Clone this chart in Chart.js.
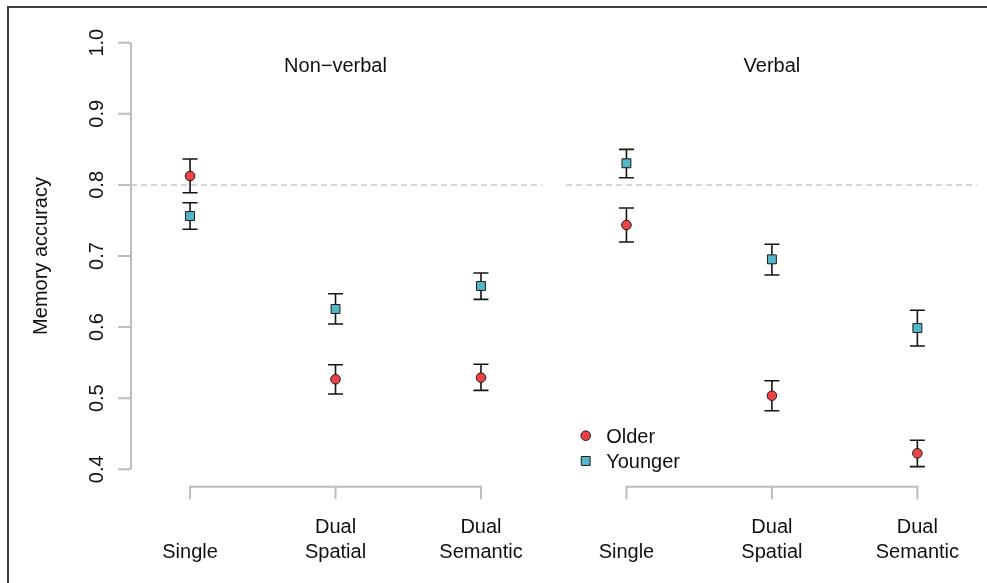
<!DOCTYPE html>
<html><head><meta charset="utf-8">
<script src="https://cdn.jsdelivr.net/npm/chart.js@4.4.1/dist/chart.umd.min.js"></script>
<style>html,body{margin:0;padding:0;background:#fff;}#wrap{width:987px;height:583px;position:relative;}</style>
</head><body><div id="wrap"><canvas id="c" width="987" height="583"></canvas></div>
<script>
// ---- data ----
const groups = ['Non\u2212verbal', 'Verbal'];
const groupCenters = [2, 5];
const conditions = [['Single'], ['Dual','Spatial'], ['Dual','Semantic'], ['Single'], ['Dual','Spatial'], ['Dual','Semantic']];
const xPos = [1, 2, 3, 4, 5, 6];
const olderMean  = [0.8125, 0.5266, 0.5289, 0.7436, 0.5035, 0.4225];
const olderLow   = [0.7890, 0.5060, 0.5110, 0.7197, 0.4824, 0.4037];
const olderHigh  = [0.8364, 0.5471, 0.5477, 0.7675, 0.5246, 0.4408];
const youngerMean = [0.7563, 0.6255, 0.6578, 0.8304, 0.6953, 0.5987];
const youngerLow  = [0.7376, 0.6044, 0.6390, 0.8100, 0.6733, 0.5734];
const youngerHigh = [0.7750, 0.6470, 0.6761, 0.8500, 0.7165, 0.6236];
const yTicks = [0.4, 0.5, 0.6, 0.7, 0.8, 0.9, 1.0];
const yTickLabels = ['0.4', '0.5', '0.6', '0.7', '0.8', '0.9', '1.0'];
const refValue = 0.8;
const refSegments = [[0.594, 3.42], [3.585, 6.41]];
const seriesNames = ['Older', 'Younger'];
const yTitle = 'Memory accuracy';

const RED = '#EE4346', BLUE = '#55B5C8';
const FONT = '20px "Liberation Sans", Arial, sans-serif';

const pts = (m) => xPos.map((x, i) => ({x: x, y: m[i]}));
const bars = [[olderLow, olderHigh], [youngerLow, youngerHigh]];

const deco = {
  id: 'deco',
  beforeDatasetsDraw(chart) {
    const ctx = chart.ctx, xs = chart.scales.x, ys = chart.scales.y, ca = chart.chartArea;
    ctx.save();
    // frame (top & left)
    ctx.strokeStyle = '#3c3c3c'; ctx.lineWidth = 2;
    ctx.beginPath(); ctx.moveTo(8, 583); ctx.lineTo(8, 7); ctx.lineTo(987, 7); ctx.stroke();
    // reference dashed line
    ctx.strokeStyle = '#c8c8c8'; ctx.lineWidth = 1.5; ctx.setLineDash([6, 4]);
    refSegments.forEach(s => {
      ctx.beginPath();
      ctx.moveTo(xs.getPixelForValue(s[0]), ys.getPixelForValue(refValue));
      ctx.lineTo(xs.getPixelForValue(s[1]), ys.getPixelForValue(refValue));
      ctx.stroke();
    });
    ctx.setLineDash([]);
    // y axis
    ctx.strokeStyle = '#bdbdbd'; ctx.lineWidth = 2;
    const ax = ca.left;
    ctx.beginPath();
    ctx.moveTo(ax, ys.getPixelForValue(yTicks[0]));
    ctx.lineTo(ax, ys.getPixelForValue(yTicks[yTicks.length - 1]));
    yTicks.forEach(t => { const p = ys.getPixelForValue(t); ctx.moveTo(ax, p); ctx.lineTo(ax - 13, p); });
    ctx.stroke();
    ctx.fillStyle = '#111'; ctx.font = FONT;
    yTicks.forEach((t, i) => {
      ctx.save();
      ctx.translate(102.5, ys.getPixelForValue(t));
      ctx.rotate(-Math.PI / 2);
      ctx.textAlign = 'center'; ctx.textBaseline = 'alphabetic';
      ctx.fillText(yTickLabels[i], 0, 0);
      ctx.restore();
    });
    ctx.save();
    ctx.translate(46.5, (ca.top + ca.bottom) / 2);
    ctx.rotate(-Math.PI / 2);
    ctx.textAlign = 'center'; ctx.textBaseline = 'alphabetic';
    ctx.fillText(yTitle, 0, 0);
    ctx.restore();
    // x brackets
    const by = ca.bottom + 17.5;
    ctx.strokeStyle = '#bdbdbd'; ctx.lineWidth = 2;
    [[0, 1, 2], [3, 4, 5]].forEach(g => {
      ctx.beginPath();
      ctx.moveTo(xs.getPixelForValue(xPos[g[0]]), by + 12.5);
      ctx.lineTo(xs.getPixelForValue(xPos[g[0]]), by);
      ctx.lineTo(xs.getPixelForValue(xPos[g[2]]), by);
      ctx.lineTo(xs.getPixelForValue(xPos[g[2]]), by + 12.5);
      ctx.moveTo(xs.getPixelForValue(xPos[g[1]]), by);
      ctx.lineTo(xs.getPixelForValue(xPos[g[1]]), by + 12.5);
      ctx.stroke();
    });
    // x labels
    ctx.textAlign = 'center'; ctx.textBaseline = 'alphabetic';
    conditions.forEach((lines, i) => {
      const px = xs.getPixelForValue(xPos[i]);
      const n = lines.length;
      lines.forEach((ln, j) => ctx.fillText(ln, px, ca.bottom + 89 - (n - 1 - j) * 25));
    });
    // group titles
    groups.forEach((g, i) => ctx.fillText(g, xs.getPixelForValue(groupCenters[i]), ca.top + 29));
    // error bars
    ctx.strokeStyle = '#151515'; ctx.lineWidth = 1.6;
    bars.forEach(b => {
      xPos.forEach((x, i) => {
        const px = xs.getPixelForValue(x), lo = ys.getPixelForValue(b[0][i]), hi = ys.getPixelForValue(b[1][i]);
        ctx.beginPath();
        ctx.moveTo(px, lo); ctx.lineTo(px, hi);
        ctx.moveTo(px - 7.5, lo); ctx.lineTo(px + 7.5, lo);
        ctx.moveTo(px - 7.5, hi); ctx.lineTo(px + 7.5, hi);
        ctx.stroke();
      });
    });
    ctx.restore();
  },
  afterDatasetsDraw(chart) {
    const ctx = chart.ctx, xs = chart.scales.x, ys = chart.scales.y;
    ctx.save();
    const lx = xs.getPixelForValue(3.72);
    const lys = [ys.getPixelForValue(0.4473), ys.getPixelForValue(0.4117)];
    chart.data.datasets.forEach((ds, i) => {
      ctx.fillStyle = ds.backgroundColor; ctx.strokeStyle = ds.borderColor; ctx.lineWidth = ds.borderWidth;
      Chart.helpers.drawPoint(ctx, {pointStyle: ds.pointStyle, radius: ds.pointRadius, borderWidth: ds.borderWidth, rotation: 0}, lx, lys[i]);
      ctx.fillStyle = '#111'; ctx.font = FONT; ctx.textAlign = 'left'; ctx.textBaseline = 'alphabetic';
      ctx.fillText(seriesNames[i], lx + 20.5, lys[i] + 7.5);
    });
    ctx.restore();
  }
};

new Chart(document.getElementById('c'), {
  type: 'scatter',
  data: {
    datasets: [
      {label: seriesNames[0], data: pts(olderMean), pointStyle: 'circle', pointRadius: 4.8, backgroundColor: RED, borderColor: '#1a1a1a', borderWidth: 1},
      {label: seriesNames[1], data: pts(youngerMean), pointStyle: 'rect', pointRadius: 6.3, backgroundColor: BLUE, borderColor: '#1a1a1a', borderWidth: 1}
    ]
  },
  options: {
    responsive: false, animation: false, devicePixelRatio: 1,
    layout: {padding: {left: 131, top: 42.7, right: 10, bottom: 113.7}},
    plugins: {legend: {display: false}, tooltip: {enabled: false}},
    scales: {
      x: {type: 'linear', min: 0.594, max: 6.41, display: false},
      y: {type: 'linear', min: 0.4, max: 1.0, display: false}
    }
  },
  plugins: [deco]
});
</script></body></html>
